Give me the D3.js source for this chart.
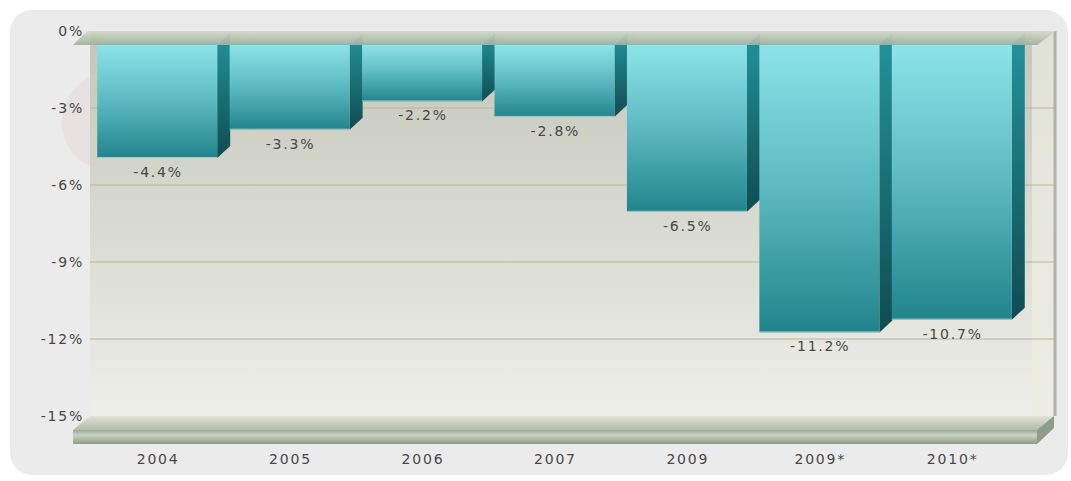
<!DOCTYPE html>
<html>
<head>
<meta charset="utf-8">
<script src="https://cdn.jsdelivr.net/npm/d3@7"></script>
<style>
  html, body { margin: 0; padding: 0; background: #ffffff; }
  svg { display: block; }
  .lbl { font-family: "DejaVu Sans", Verdana, sans-serif; font-size: 14px; fill: #474747; letter-spacing: 1.8px; }
</style>
</head>
<body>
<svg id="chart" width="1071" height="481"></svg>
<script>
// Budget balance, % of GDP
const categories = ["2004", "2005", "2006", "2007", "2009", "2009*", "2010*"];
const values = [-4.4, -3.3, -2.2, -2.8, -6.5, -11.2, -10.7];
const valueLabels = ["-4.4%", "-3.3%", "-2.2%", "-2.8%", "-6.5%", "-11.2%", "-10.7%"];
const yTicks = [0, -3, -6, -9, -12, -15];
const yTickLabels = ["0%", "-3%", "-6%", "-9%", "-12%", "-15%"];

const svg = d3.select("#chart");
const defs = svg.append("defs");

// canvas geometry (front plane and the back wall offset)
const frontL = 73, frontR = 1037;
const wallDX = 17;
const barDX = 13, barDY = 12;
const slab = 14;

const x = d3.scaleBand().domain(categories).range([91, 1018]).paddingInner(0.094).paddingOuter(0.047);
const yFront = d3.scaleLinear().domain([0, -15]).range([45, 430]);
const yBack = d3.scaleLinear().domain([0, -15]).range([31, 416]);

function lin(id, stops, x1 = 0, y1 = 0, x2 = 0, y2 = 1) {
  const g = defs.append("linearGradient").attr("id", id)
    .attr("x1", x1).attr("y1", y1).attr("x2", x2).attr("y2", y2);
  stops.forEach(([o, c]) => g.append("stop").attr("offset", o).attr("stop-color", c));
}
lin("wallG", [[0, "#c4c6bb"], [0.5, "#d9dad1"], [1, "#eeefe9"]]);
lin("barG", [[0, "#8de3ea"], [0.5, "#5cb9c1"], [1, "#21848c"]]);
lin("sideG", [[0, "#23939b"], [1, "#0f4c52"]]);
lin("ceilG", [[0, "#d6d9cb"], [0.5, "#bcc4b2"], [1, "#a2b09b"]]);
lin("floorTopG", [[0, "#dfe2d6"], [1, "#b0bca8"]]);
lin("floorFrontG", [[0, "#9aa993"], [0.35, "#c9d2c1"], [0.6, "#b3bfaa"], [1, "#8d9c87"]]);

// outer panel
svg.append("rect").attr("x", 10).attr("y", 10).attr("width", 1058).attr("height", 465)
  .attr("rx", 22).attr("fill", "#ebebeb");

// faint seal behind the plot
svg.append("circle").attr("cx", 112).attr("cy", 122).attr("r", 50)
  .attr("fill", "rgba(205,130,130,0.09)");

// back wall
const backL = frontL + wallDX, backR = frontR + wallDX;
svg.append("rect").attr("x", backL).attr("y", yBack(0))
  .attr("width", backR - backL).attr("height", yBack(-15) - yBack(0))
  .attr("fill", "url(#wallG)");
// lighter strip on the right end of the wall
svg.append("rect").attr("x", frontR - 5).attr("y", yBack(0))
  .attr("width", backR - frontR + 5).attr("height", yBack(-15) - yBack(0))
  .attr("fill", "#ecece3").attr("opacity", 0.7);
svg.append("line").attr("x1", backR + 1).attr("x2", backR + 1)
  .attr("y1", yBack(0)).attr("y2", yBack(-15))
  .attr("stroke", "#b0b3a6").attr("stroke-width", 3);

// gridlines on the back wall
svg.append("g").selectAll("line").data(yTicks.filter(t => t !== 0 && t !== -15)).join("line")
  .attr("x1", backL).attr("x2", backR)
  .attr("y1", d => yBack(d)).attr("y2", d => yBack(d))
  .attr("stroke", "#b9b89a").attr("stroke-width", 1);

// floor slab
const fy = yBack(-15);
svg.append("polygon")
  .attr("points", [[backL, fy], [backR, fy], [frontR, fy + slab], [frontL, fy + slab]].join(" "))
  .attr("fill", "url(#floorTopG)");
svg.append("rect").attr("x", frontL).attr("y", fy + slab).attr("width", frontR - frontL).attr("height", slab)
  .attr("fill", "url(#floorFrontG)");
svg.append("polygon")
  .attr("points", [[frontR, fy + slab], [backR, fy], [backR, fy + slab - 2], [frontR, fy + 2 * slab]].join(" "))
  .attr("fill", "#8f9c88");

// bars
const bars = svg.append("g").selectAll("g").data(categories).join("g");
const bw = x.bandwidth();
bars.append("polygon") // top face, inside the zero plane
  .attr("points", d => {
    const x0 = x(d), y0 = yFront(0);
    return [[x0, y0], [x0 + barDX, y0 - barDY], [x0 + bw + barDX, y0 - barDY], [x0 + bw, y0]].join(" ");
  })
  .attr("fill", "#9ee6ea");
bars.append("polygon") // right side face
  .attr("points", (d, i) => {
    const x1 = x(d) + bw, y0 = yFront(0), y1 = yFront(values[i]);
    return [[x1, y0], [x1 + barDX, y0 - barDY], [x1 + barDX, y1 - barDY], [x1, y1]].join(" ");
  })
  .attr("fill", "url(#sideG)");
bars.append("rect") // front face
  .attr("x", d => x(d)).attr("width", bw)
  .attr("y", yFront(0))
  .attr("height", (d, i) => yFront(values[i]) - yFront(0))
  .attr("fill", "url(#barG)");
bars.append("line") // bright lower edge
  .attr("x1", d => x(d)).attr("x2", d => x(d) + bw)
  .attr("y1", (d, i) => yFront(values[i]) - 0.5).attr("y2", (d, i) => yFront(values[i]) - 0.5)
  .attr("stroke", "#a8eef2").attr("stroke-width", 1).attr("opacity", 0.8);

// zero plane slab
const zy = yFront(0);
svg.append("polygon")
  .attr("points", [[backL - 3, yBack(0)], [backR + 2, yBack(0)], [frontR, zy], [frontL, zy]].join(" "))
  .attr("fill", "url(#ceilG)").attr("opacity", 0.92);

// value labels
svg.append("g").selectAll("text").data(categories).join("text")
  .attr("class", "lbl")
  .attr("x", d => x(d) + bw / 2 + 0.9)
  .attr("y", (d, i) => yFront(values[i]) + 14)
  .attr("text-anchor", "middle").attr("dominant-baseline", "central")
  .text((d, i) => valueLabels[i]);

// y axis labels
const yAxis = svg.append("g").attr("transform", `translate(${frontL + 11},0)`)
  .call(d3.axisLeft(yBack).tickValues(yTicks).tickSize(0).tickPadding(0)
    .tickFormat((d, i) => yTickLabels[i]));
yAxis.select(".domain").remove();
yAxis.selectAll("text").attr("class", "lbl").attr("dy", "0.35em");

// x axis labels
const xAxis = svg.append("g").attr("transform", `translate(${0.9},${fy + 2 * slab + 10})`)
  .call(d3.axisBottom(x).tickSize(0).tickPadding(0));
xAxis.select(".domain").remove();
xAxis.selectAll("text").attr("class", "lbl").attr("dy", "0.71em");
</script>
</body>
</html>
